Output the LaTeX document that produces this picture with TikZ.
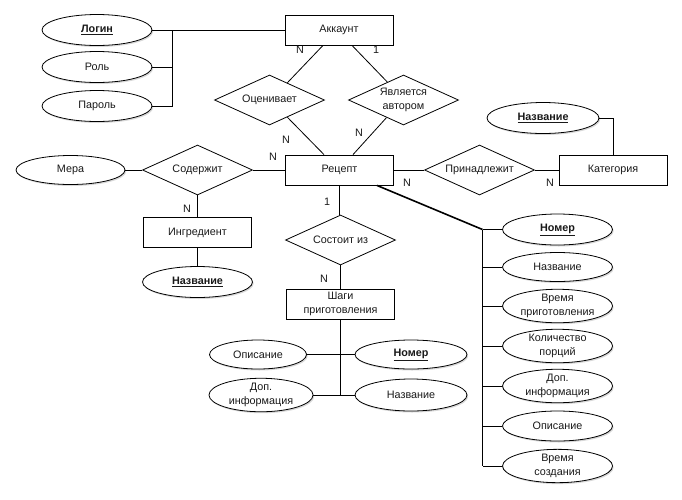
\documentclass[tikz,border=0pt]{standalone}
\usepackage{fontspec}
\setmainfont{Liberation Sans}
\usetikzlibrary{shapes.geometric,calc,shadows}
\begin{document}
\begin{tikzpicture}[x=1pt,y=-1pt,
  every node/.style={font=\fontsize{10.8}{14}\selectfont, text=black!90},
  ent/.style={draw, line width=0.8pt, rectangle, inner sep=0pt, minimum width=108pt, minimum height=30pt, align=center},
  rel/.style={draw, line width=0.8pt, diamond, aspect=2, inner sep=0pt, minimum width=110pt, minimum height=50pt, align=center},
  attr/.style={draw, line width=0.8pt, ellipse, inner sep=0pt, minimum width=110pt, minimum height=31pt, align=center, fill=white,
     drop shadow={shadow xshift=1.2pt, shadow yshift=-1.5pt, fill=black!30, opacity=0.5}},
  card/.style={inner sep=0pt},
  conn/.style={line width=0.8pt}
]
\useasboundingbox (0,0) rectangle (682,499);

% entities
\node[ent] (acc) at (339,30) {Аккаунт};
\node[ent] (recipe) at (339.5,170) {Рецепт};
\node[ent] (ingr) at (197.5,232.5) {Ингредиент};
\node[ent] (cat) at (613,170) {Категория};
\node[ent] (steps) at (340.5,304) {Шаги\\приготовления};

% relationships
\node[rel] (rate) at (269.5,100) {Оценивает};
\node[rel] (author) at (403.5,100) {Является\\автором};
\node[rel] (contains) at (197.5,170) {Содержит};
\node[rel] (belongs) at (479.5,170) {Принадлежит};
\node[rel] (consists) at (340.5,240) {Состоит из};

% attributes of account
\node[attr] (login) at (97,30) {\underline{\textbf{Логин}}};
\node[attr] (role) at (97,67) {Роль};
\node[attr] (pass) at (97,106) {Пароль};

% other attributes
\node[attr, minimum width=109pt, minimum height=29pt] (measure) at (70.5,170) {Мера};
\node[attr] (ingname) at (197.5,282) {\underline{\textbf{Название}}};
\node[attr, minimum width=112pt] (catname) at (543,118) {\underline{\textbf{Название}}};

% steps attributes
\node[attr, minimum width=97pt, minimum height=29pt] (stdesc) at (258,354.5) {Описание};
\node[attr, minimum width=112pt, minimum height=29pt] (stnum) at (411,354.5) {\underline{\textbf{Номер}}};
\node[attr, minimum width=104pt, minimum height=32pt] (stinfo) at (261,395) {Доп.\\информация};
\node[attr, minimum width=112pt, minimum height=32pt] (stname) at (411,395) {Название};

% recipe attributes
\node[attr] (rnum) at (557.5,229.5) {\underline{\textbf{Номер}}};
\node[attr, minimum height=29pt] (rname) at (557.5,267) {Название};
\node[attr, minimum height=33pt] (rtime) at (557.5,306) {Время\\приготовления};
\node[attr, minimum height=33pt] (rport) at (557.5,346) {Количество\\порций};
\node[attr, minimum height=33pt] (rinfo) at (557.5,386) {Доп.\\информация};
\node[attr, minimum height=30pt] (rdesc) at (557.5,426) {Описание};
\node[attr, minimum height=33pt] (rcreated) at (557.5,466) {Время\\создания};

% junction coordinates
\coordinate (jA) at (172,30);
\coordinate (jS1) at (340.5,354.5);
\coordinate (jS2) at (340.5,395);
\coordinate (jR) at (482.5,229.5);
\coordinate (jRb) at (482.5,466);

% connectors
\draw[conn] (login.east) -- (acc.west);
\draw[conn] (role.east) -| (jA);
\draw[conn] (pass.east) -| (jA);

\draw[conn] ($(acc.south)+(-16,0)$) -- (rate.44);
\draw[conn] ($(acc.south)+(13,0)$) -- (author.132);
\draw[conn] (rate.-44) -- ($(recipe.north)+(-15.5,0)$);
\draw[conn] (author.-134) -- ($(recipe.north)+(13.5,0)$);

\draw[conn] (measure.east) -- (contains.west);
\draw[conn] (contains.east) -- (recipe.west);
\draw[conn] (contains.south) -- (ingr.north);
\draw[conn] (ingr.south) -- (ingname.north);

\draw[conn] (recipe.east) -- (belongs.west);
\draw[conn] (belongs.east) -- (cat.west);
\draw[conn] (catname.east) -| (cat.north);

\draw[conn] (recipe.south) -- (recipe.south |- consists.north);
\draw[conn] (consists.south) -- (steps.north);
\draw[conn] (steps.south) -- (jS2);
\draw[conn] (stdesc.east) -- (jS1) -- (stnum.west);
\draw[conn] (stinfo.east) -- (jS2) -- (stname.west);

\draw[line width=1.6pt] ($(recipe.south east)+(-17,0)$) -- (jR);
\draw[conn] (jR) -- (jRb);
\foreach \n in {rnum,rname,rtime,rport,rinfo,rdesc,rcreated}
  \draw[conn] (\n.west) -- (\n.west -| jR);

% cardinalities
\node[card] (c1) at (300,50) {N};
\node[card] (c2) at (376,50) {1};
\node[card] (c3) at (286,140) {N};
\node[card] (c4) at (359,133) {N};
\node[card] (c5) at (273,157) {N};
\node[card] (c6) at (407,183) {N};
\node[card] (c7) at (550,183) {N};
\node[card] (c8) at (187,209) {N};
\node[card] (c9) at (327,202) {1};
\node[card] (c10) at (324,279) {N};
\end{tikzpicture}
\end{document}
